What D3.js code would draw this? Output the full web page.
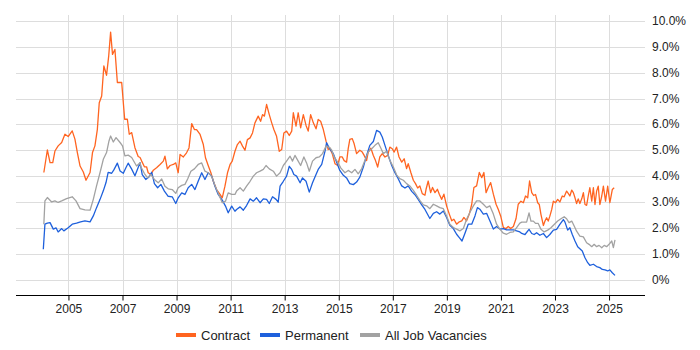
<!DOCTYPE html>
<html>
<head>
<meta charset="utf-8">
<script src="https://cdn.jsdelivr.net/npm/d3@7"></script>
<style>
  body { margin: 0; background: #fff; }
  text { font-family: Arial, "Liberation Sans", sans-serif; }
</style>
</head>
<body>
<div id="chart"></div>
<script>
// Series names and colours
var seriesNames = ["Contract", "Permanent", "All Job Vacancies"];
var seriesColors = ["#ff6420", "#1e60dc", "#a2a2a2"];

// Tick values
var xTicks = [2005, 2007, 2009, 2011, 2013, 2015, 2017, 2019, 2021, 2023, 2025];
var yTicks = [0, 1, 2, 3, 4, 5, 6, 7, 8, 9, 10];

// Contract (% of vacancies), decimal years
var contractYears = [2004.09,2004.22,2004.32,2004.42,2004.50,2004.62,2004.75,2004.87,2004.99,2005.14,2005.24,2005.33,2005.43,2005.55,2005.65,2005.80,2005.89,2005.98,2006.07,2006.14,2006.23,2006.31,2006.41,2006.49,2006.56,2006.63,2006.72,2006.81,2006.97,2007.08,2007.18,2007.25,2007.34,2007.46,2007.58,2007.65,
  2007.71,2007.81,2007.89,2007.95,2008.05,2008.14,2008.26,2008.39,2008.51,2008.57,2008.66,2008.76,2008.88,2008.97,2009.06,2009.13,2009.25,2009.37,2009.46,2009.56,2009.66,2009.74,2009.87,2009.99,2010.07,2010.17,2010.27,2010.36,2010.48,2010.61,2010.69,2010.79,2010.89,2010.98,2011.06,
  2011.16,2011.25,2011.35,2011.44,2011.53,2011.62,2011.72,2011.81,2011.90,2012.02,2012.11,2012.18,2012.25,2012.33,2012.43,2012.52,2012.60,2012.70,2012.80,2012.89,2012.97,2013.07,2013.17,2013.26,2013.32,2013.42,2013.50,2013.59,2013.69,2013.79,2013.87,2013.96,2014.06,2014.16,2014.24,2014.33,2014.43,2014.53,2014.61,
  2014.67,2014.76,2014.86,2014.96,2015.04,2015.13,2015.20,2015.29,2015.35,2015.41,2015.50,2015.57,2015.66,2015.78,2015.87,2015.94,2016.03,2016.09,2016.19,2016.28,2016.36,2016.44,2016.52,2016.61,2016.71,2016.81,2016.89,2016.98,2017.05,2017.14,2017.23,2017.33,2017.42,2017.51,2017.57,2017.67,2017.76,2017.84,2017.92,2018.00,2018.09,2018.19,
  2018.23,2018.31,2018.40,2018.47,2018.56,2018.65,2018.72,2018.81,2018.89,2018.99,2019.09,2019.18,2019.26,2019.36,2019.46,2019.55,2019.63,2019.73,2019.83,2019.92,2020.00,2020.10,2020.20,2020.29,2020.37,2020.45,2020.53,2020.62,2020.72,2020.82,2020.90,2020.99,2021.09,2021.19,2021.27,2021.36,2021.46,2021.56,2021.64,
  2021.74,2021.83,2021.91,2021.99,2022.06,2022.14,2022.21,2022.28,2022.36,2022.42,2022.48,2022.57,2022.63,2022.69,2022.75,2022.81,2022.88,2022.94,2023.02,2023.10,2023.18,2023.27,2023.34,2023.43,2023.49,2023.55,2023.62,2023.68,2023.74,2023.80,2023.86,2023.92,2023.99,2024.05,2024.11,2024.17,2024.23,2024.29,2024.36,2024.42,2024.48,2024.54,2024.60,2024.66,2024.73,2024.79,2024.87,2024.95,2025.03,2025.12,2025.19];
var contractValues = [4.14,5.01,4.52,4.52,4.97,5.17,5.30,5.62,5.53,5.75,5.43,4.91,4.39,4.16,3.84,4.14,4.91,5.17,5.81,6.84,7.10,8.26,7.90,8.65,9.57,8.71,8.90,7.62,7.62,6.20,6.20,5.62,5.68,5.10,4.76,4.72,
  4.58,4.36,4.36,4.13,4.06,4.23,4.32,4.45,4.58,4.77,4.28,4.41,4.45,4.51,4.13,4.84,4.74,4.90,5.09,6.03,5.80,5.80,5.61,5.22,4.71,4.41,4.13,3.80,3.48,3.29,3.16,3.61,4.15,4.45,4.58,
  4.96,5.22,5.35,5.16,5.00,5.41,5.48,5.67,6.06,6.32,6.12,6.38,6.32,6.77,6.38,6.06,5.80,5.54,4.96,5.03,5.67,5.74,5.57,5.74,6.45,5.93,6.45,5.87,6.38,5.96,5.74,6.38,6.06,5.83,6.19,6.12,5.80,5.35,5.03,
  5.08,4.87,4.48,4.41,4.74,4.74,4.60,4.54,5.06,5.42,5.45,5.25,4.87,5.00,4.93,4.80,4.60,4.93,5.08,4.80,4.60,4.35,4.74,4.87,4.74,4.80,5.12,5.06,4.93,5.12,4.74,4.54,4.67,4.29,4.48,4.13,3.84,3.71,3.54,3.62,3.32,3.26,
  3.49,3.81,3.36,3.56,3.36,3.49,3.30,3.10,3.30,2.85,2.53,2.27,2.33,2.14,2.23,2.27,2.40,2.27,2.53,2.91,3.56,3.62,4.14,3.94,4.14,3.36,3.56,3.75,3.30,2.91,2.72,2.46,2.01,1.97,2.05,1.97,2.05,2.36,2.91,
  3.03,2.97,3.23,3.16,3.81,3.36,3.25,3.29,2.97,2.90,2.52,2.09,2.26,2.39,2.26,2.45,2.71,3.03,2.97,3.10,3.00,3.23,3.20,3.42,3.33,3.23,3.46,3.36,3.16,2.94,3.12,2.94,3.12,3.36,2.90,2.87,3.23,3.55,3.03,3.55,2.90,3.42,3.61,2.90,3.23,3.61,3.03,3.61,2.97,3.48,3.55];

// Permanent (% of vacancies)
var permanentYears = [2004.07,2004.13,2004.22,2004.32,2004.44,2004.54,2004.62,2004.75,2004.83,2004.99,2005.14,2005.30,2005.45,2005.61,2005.80,2005.92,2006.04,2006.17,2006.29,2006.39,2006.47,2006.60,2006.68,2006.81,2006.91,2007.03,2007.13,2007.21,2007.34,2007.46,2007.58,2007.65,
  2007.73,2007.86,2007.98,2008.08,2008.18,2008.30,2008.42,2008.55,2008.69,2008.84,2008.97,2009.06,2009.19,2009.31,2009.43,2009.56,2009.68,2009.80,2009.93,2010.05,2010.17,2010.30,2010.42,2010.54,2010.69,2010.81,2010.91,2011.04,2011.16,
  2011.22,2011.35,2011.47,2011.59,2011.72,2011.84,2011.96,2012.09,2012.21,2012.33,2012.43,2012.55,2012.68,2012.76,2012.83,2012.95,2013.07,2013.17,2013.26,2013.34,2013.44,2013.57,2013.66,2013.79,2013.91,2014.03,2014.16,2014.24,2014.37,2014.49,2014.55,2014.67,
  2014.80,2014.92,2015.04,2015.17,2015.29,2015.41,2015.54,2015.66,2015.78,2015.91,2016.03,2016.15,2016.28,2016.40,2016.52,2016.61,2016.71,2016.83,2016.96,2017.08,2017.20,2017.33,2017.45,2017.57,2017.70,2017.82,2017.94,2018.07,2018.19,
  2018.25,2018.37,2018.50,2018.62,2018.74,2018.87,2018.99,2019.11,2019.24,2019.36,2019.46,2019.56,2019.67,2019.79,2019.92,2020.04,2020.13,2020.22,2020.35,2020.47,2020.59,2020.72,2020.84,2020.96,2021.09,2021.21,2021.33,2021.46,2021.58,2021.70,
  2021.77,2021.89,2022.04,2022.14,2022.23,2022.32,2022.44,2022.57,2022.69,2022.81,2022.94,2023.06,2023.18,2023.31,2023.37,2023.47,2023.55,2023.64,2023.74,2023.84,2023.92,2024.01,2024.11,2024.21,2024.29,2024.42,2024.54,2024.66,2024.75,2024.85,2024.95,2025.03,2025.12,2025.22];
var permanentValues = [1.17,2.14,2.18,2.20,1.95,2.00,1.84,1.97,1.88,2.00,2.14,2.18,2.23,2.27,2.23,2.46,2.78,3.10,3.43,3.75,4.14,4.11,4.24,4.50,4.20,4.11,4.33,4.50,4.27,4.01,4.33,4.52,
  4.06,3.87,3.97,4.15,3.71,3.55,3.68,3.42,3.22,3.20,2.94,3.16,3.35,3.29,3.55,3.68,3.48,3.80,4.13,3.87,4.13,4.00,3.61,3.29,3.07,2.84,2.58,2.84,2.64,
  2.71,2.81,2.68,2.86,3.12,3.03,3.16,2.97,3.12,3.10,2.94,3.20,3.10,2.99,3.61,3.80,4.00,4.38,4.26,4.06,4.00,3.74,3.93,3.80,3.38,3.74,4.06,4.26,4.45,4.96,5.29,5.05,
  4.87,4.54,4.22,4.03,3.93,3.71,3.67,3.77,3.96,4.35,4.80,5.19,5.34,5.77,5.70,5.51,5.19,4.80,4.41,4.13,3.90,3.62,3.54,3.62,3.41,3.28,3.10,2.89,2.71,
  2.59,2.36,2.56,2.62,2.53,2.65,2.40,2.10,1.97,1.75,1.62,1.49,1.79,2.14,2.14,2.46,2.78,2.72,2.53,2.56,2.27,1.95,2.05,1.95,1.97,1.92,1.92,1.92,1.88,1.84,
  1.78,1.74,1.94,1.78,1.74,1.81,1.71,1.78,1.62,1.74,1.91,1.94,2.13,2.32,2.22,1.91,2.00,1.74,1.49,1.27,1.19,1.10,0.84,0.65,0.55,0.59,0.50,0.46,0.39,0.37,0.33,0.37,0.26,0.16];

// All job vacancies (% of vacancies)
var allYears = [2004.09,2004.13,2004.22,2004.38,2004.50,2004.62,2004.75,2004.93,2005.14,2005.28,2005.43,2005.61,2005.80,2005.92,2006.04,2006.17,2006.29,2006.41,2006.50,2006.56,2006.66,2006.76,2006.91,2007.00,2007.09,2007.21,2007.34,2007.52,2007.65,
  2007.68,2007.81,2007.93,2008.05,2008.18,2008.32,2008.45,2008.57,2008.69,2008.84,2008.97,2009.06,2009.19,2009.31,2009.41,2009.53,2009.66,2009.80,2009.93,2010.05,2010.17,2010.30,2010.42,2010.54,2010.69,2010.81,2010.91,2011.04,2011.16,
  2011.22,2011.35,2011.47,2011.59,2011.72,2011.84,2011.96,2012.09,2012.21,2012.31,2012.43,2012.58,2012.70,2012.83,2012.95,2013.07,2013.20,2013.29,2013.38,2013.50,2013.59,2013.71,2013.81,2013.91,2014.03,2014.16,2014.28,2014.40,2014.53,2014.67,
  2014.74,2014.83,2014.96,2015.08,2015.23,2015.35,2015.48,2015.60,2015.72,2015.85,2015.97,2016.09,2016.22,2016.34,2016.46,2016.56,2016.65,2016.77,2016.89,2017.02,2017.14,2017.26,2017.39,2017.51,2017.63,2017.76,2017.88,2018.00,2018.13,
  2018.25,2018.37,2018.50,2018.62,2018.74,2018.87,2018.99,2019.11,2019.24,2019.36,2019.48,2019.61,2019.73,2019.85,2019.98,2020.10,2020.22,2020.35,2020.47,2020.59,2020.72,2020.84,2020.96,2021.09,2021.21,2021.33,2021.46,2021.58,2021.70,
  2021.77,2021.95,2022.04,2022.11,2022.20,2022.28,2022.38,2022.48,2022.60,2022.73,2022.85,2022.97,2023.10,2023.22,2023.34,2023.43,2023.52,2023.62,2023.71,2023.80,2023.92,2024.05,2024.17,2024.26,2024.36,2024.45,2024.54,2024.63,2024.73,2024.82,2024.91,2025.00,2025.10,2025.16,2025.22];
var allValues = [2.14,3.04,3.17,3.00,3.04,2.98,3.04,3.13,3.20,3.04,2.74,2.69,2.68,3.10,3.62,4.14,4.65,4.91,5.36,5.55,5.32,5.49,5.30,5.17,4.78,4.81,4.72,4.39,4.52,
  4.36,4.10,3.93,4.06,3.87,3.74,3.89,3.61,3.51,3.48,3.33,3.55,3.64,3.68,3.89,4.19,4.28,4.45,4.51,4.19,4.13,4.00,3.64,3.35,2.97,3.03,3.35,3.29,3.29,
  3.42,3.55,3.42,3.61,3.80,4.00,4.13,4.19,4.26,4.41,4.28,4.19,4.00,4.13,4.41,4.58,4.77,4.58,4.80,4.58,4.41,4.74,4.51,4.19,4.58,4.71,4.74,4.87,5.16,5.10,
  5.00,4.74,4.54,4.31,4.13,4.22,4.13,4.26,4.09,4.29,4.61,4.93,5.06,5.19,5.29,5.08,4.87,4.96,4.61,4.35,4.05,3.90,3.84,3.71,3.62,3.45,3.26,3.06,2.89,
  2.85,2.74,2.91,2.85,2.78,2.74,2.46,2.14,2.01,1.95,1.88,1.97,2.33,2.59,2.85,3.04,3.04,2.91,2.78,2.85,2.53,2.14,1.95,1.79,1.75,1.82,1.84,2.01,2.18,
  2.22,2.22,2.58,2.26,2.26,2.17,2.17,1.94,1.84,1.91,2.00,2.13,2.26,2.35,2.43,2.35,2.20,2.26,2.07,1.87,1.68,1.65,1.42,1.36,1.27,1.36,1.27,1.32,1.23,1.32,1.27,1.36,1.49,1.23,1.53];

// Chart dimensions (plot area)
var width = 700, height = 350;
var plotLeft = 16, plotRight = 645, plotTop = 15, axisY = 295;

var svg = d3.select("#chart")
  .append("svg")
  .attr("width", width)
  .attr("height", height);

// Scales
var xScale = d3.scaleLinear()
  .domain([2003.06, 2026.33])
  .range([plotLeft, plotRight]);
var yScale = d3.scaleLinear()
  .domain([0, 10])
  .range([279.5, 21]);

// Horizontal gridlines + right-hand labels
svg.append("g")
  .selectAll("line")
  .data(yTicks)
  .enter().append("line")
  .attr("x1", plotLeft)
  .attr("x2", plotRight)
  .attr("y1", function (d) { return Math.round(yScale(d)) + 0.5; })
  .attr("y2", function (d) { return Math.round(yScale(d)) + 0.5; })
  .attr("stroke", "#dddddd")
  .attr("stroke-width", 1);

svg.append("g")
  .selectAll("text")
  .data(yTicks)
  .enter().append("text")
  .attr("x", 652)
  .attr("y", function (d) { return yScale(d) + 4; })
  .attr("font-size", "12px")
  .attr("fill", "#222")
  .text(function (d) { return d === 0 ? "0%" : d.toFixed(1) + "%"; });

// Vertical gridlines at the labelled years
svg.append("g")
  .selectAll("line")
  .data(xTicks)
  .enter().append("line")
  .attr("x1", function (d) { return Math.round(xScale(d)) + 0.5; })
  .attr("x2", function (d) { return Math.round(xScale(d)) + 0.5; })
  .attr("y1", plotTop)
  .attr("y2", axisY)
  .attr("stroke", "#dddddd")
  .attr("stroke-width", 1);

// Bottom axis
var xAxis = svg.append("g")
  .attr("transform", "translate(0," + (axisY + 0.5) + ")")
  .call(d3.axisBottom(xScale)
    .tickValues(xTicks)
    .tickFormat(d3.format("d"))
    .tickSize(5)
    .tickPadding(4));
xAxis.select(".domain")
  .attr("d", "M" + plotLeft + ",0H" + plotRight)
  .attr("stroke", "#000");
xAxis.selectAll(".tick line").attr("stroke", "#000");
xAxis.selectAll("text")
  .attr("font-size", "12px")
  .attr("font-family", "Arial, 'Liberation Sans', sans-serif")
  .attr("fill", "#222");

// Lines
var line = d3.line()
  .x(function (d) { return xScale(d[0]); })
  .y(function (d) { return yScale(d[1]); });

var series = [
  d3.zip(contractYears, contractValues),
  d3.zip(permanentYears, permanentValues),
  d3.zip(allYears, allValues)
];

series.forEach(function (points, i) {
  svg.append("path")
    .datum(points)
    .attr("fill", "none")
    .attr("stroke", seriesColors[i])
    .attr("stroke-width", 1.3)
    .attr("stroke-linejoin", "round")
    .attr("d", line);
});

// Legend
var legendX = [176, 260, 360];
var legend = svg.append("g")
  .selectAll("g")
  .data(seriesNames)
  .enter().append("g")
  .attr("transform", function (d, i) { return "translate(" + legendX[i] + ",335)"; });
legend.append("rect")
  .attr("x", 0)
  .attr("y", -2)
  .attr("width", 20)
  .attr("height", 4)
  .attr("fill", function (d, i) { return seriesColors[i]; });
legend.append("text")
  .attr("x", 25)
  .attr("y", 4.5)
  .attr("font-size", "13px")
  .attr("fill", "#222")
  .text(function (d) { return d; });
</script>
</body>
</html>
